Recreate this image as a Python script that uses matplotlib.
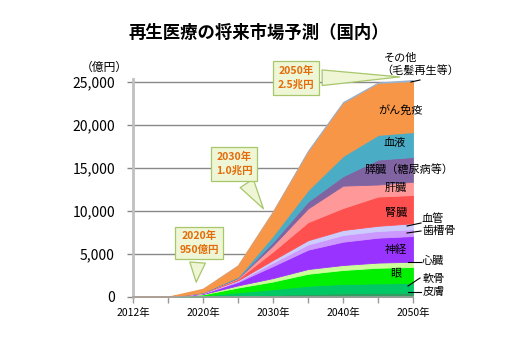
import matplotlib
matplotlib.use('Agg')
import matplotlib.pyplot as plt
from matplotlib.lines import Line2D

plt.rcParams['font.family'] = ['Noto Sans CJK JP', 'DejaVu Sans']

years = ['2012年', '2015年', '2020年', '2025年', '2030年', '2035年', '2040年', '2045年', '2050年']
shown_years = ['2012年', '', '2020年', '', '2030年', '', '2040年', '', '2050年']

# 億円, bottom layer first
skin     = [0, 0, 30, 150, 250, 350, 430, 480, 500]
cartilage = [0, 0, 120, 400, 650, 950, 1080, 1100, 1130]
eye      = [0, 0, 150, 550, 900, 1400, 1630, 1820, 1860]
heart    = [0, 0, 50, 250, 400, 550, 580, 600, 610]
nerve    = [0, 0, 70, 400, 1400, 2250, 2710, 2900, 2990]
alveolar = [0, 0, 30, 100, 400, 600, 780, 780, 780]
vessel   = [0, 0, 20, 100, 300, 500, 580, 600, 700]
kidney   = [0, 0, 30, 150, 1000, 2100, 2560, 3400, 3290]
liver    = [0, 0, 20, 100, 700, 1600, 2600, 1400, 1540]
pancreas = [0, 0, 20, 50, 400, 800, 1100, 2900, 2880]
blood    = [0, 0, 60, 150, 800, 1400, 2400, 2910, 2940]
cancer   = [0, 0, 330, 1250, 2700, 4400, 6100, 5960, 5850]
other    = [0, 0, 20, 50, 100, 200, 200, 150, 230]

layers = [skin, cartilage, eye, heart, nerve, alveolar, vessel,
          kidney, liver, pancreas, blood, cancer, other]
colors = ['#2f9e5e', '#00c864', '#00f000', '#ccff99', '#9933ff', '#cc99ff', '#ccccff',
          '#ff5050', '#ff9999', '#8064a2', '#4bacc6', '#f79646', '#95b3d7']

W, H = 510, 340
fig = plt.figure(figsize=(W / 100, H / 100), dpi=100)
ax = fig.add_axes([133 / W, 1 - 297 / H, 280 / W, 218.4 / H])

x = list(range(len(years)))
polys = ax.stackplot(x, *layers, colors=colors)
for p, c in zip(polys, colors):
    p.set_edgecolor(c)
    p.set_linewidth(0.6)
polys[-1].set_linewidth(0)
polys[-2].set_linewidth(1.2)

ax.set_xlim(0, 8)
ax.set_ylim(0, 25400)
ax.set_yticks(range(0, 25001, 5000))
ax.set_yticklabels(['{:,}'.format(v) for v in range(0, 25001, 5000)], fontsize=10)
ax.set_xticks(x)
ax.set_xticklabels(shown_years, fontsize=7.5)
ax.yaxis.grid(True, color='#888888', lw=1)
ax.set_axisbelow(True)
ax.tick_params(axis='y', length=4, color='#888888', width=1, pad=9)
ax.tick_params(axis='x', length=4, color='#999999', width=1, pad=4)
for s in ['top', 'right']:
    ax.spines[s].set_visible(False)
ax.spines['left'].set_color('#c0c0c0')
ax.spines['left'].set_linewidth(2)
ax.spines['bottom'].set_color('#a0a0a0')
ax.spines['bottom'].set_linewidth(1.2)


def px(xp, yp):
    return xp / W, 1 - yp / H


fig.text(*px(259, 33), '再生医療の将来市場予測（国内）', ha='center', va='center',
         fontsize=12.5, fontweight='bold')
fig.text(*px(104, 67), '（億円）', ha='center', va='center', fontsize=8.5)

# labels inside the areas
inner = [('その他', 401, 58), ('（毛髪再生等）', 420, 70), ('がん免疫', 401, 111),
         ('血液', 395, 143), ('膵臓（糖尿病等）', 409, 170), ('肝臓', 396, 188),
         ('腎臓', 396, 213), ('神経', 396, 250), ('眼', 396, 273)]
for t, xp, yp in inner:
    fig.text(*px(xp, yp), t, ha='center', va='center', fontsize=8)

# labels with leader lines
side = [('血管', 422, 219, (407, 226), (421, 223)),
        ('歯槽骨', 422, 231, (407, 233), (421, 231)),
        ('心臓', 422, 261, (408, 262), (421, 262)),
        ('軟骨', 423, 279, (408, 286), (420, 278)),
        ('皮膚', 423, 292, (408, 292), (421, 292))]
for t, xp, yp, a, b in side:
    fig.text(*px(xp, yp), t, ha='left', va='center', fontsize=8)
    fig.add_artist(Line2D([a[0] / W, b[0] / W], [1 - a[1] / H, 1 - b[1] / H],
                          color='black', lw=0.8))
fig.add_artist(Line2D([411 / W, 420 / W], [1 - 82 / H, 1 - 80 / H], color='black', lw=0.8))

# callouts
callouts = [('2020年\n950億円', (1.8, 1400), (199, 243)),
            ('2030年\n1.0兆円', (3.77, 10000), (234, 164)),
            ('2050年\n2.5兆円', (7.7, 25600), (296, 78))]
for t, tip, c in callouts:
    ax.annotate(t, xy=tip, xycoords='data', xytext=(c[0], H - c[1]),
                textcoords='figure pixels', ha='center', va='center',
                fontsize=7.5, fontweight='bold', color='#e46c0a', linespacing=1.4,
                bbox=dict(boxstyle='square,pad=0.45', fc='#eef6d6', ec='#a8c66c', lw=0.9),
                arrowprops=dict(arrowstyle='wedge,tail_width=1.5,shrink_factor=0.5',
                                fc='#eef6d6', ec='#a8c66c', lw=0.9),
                annotation_clip=False, zorder=5)

fig.savefig('out.png', dpi=100)
